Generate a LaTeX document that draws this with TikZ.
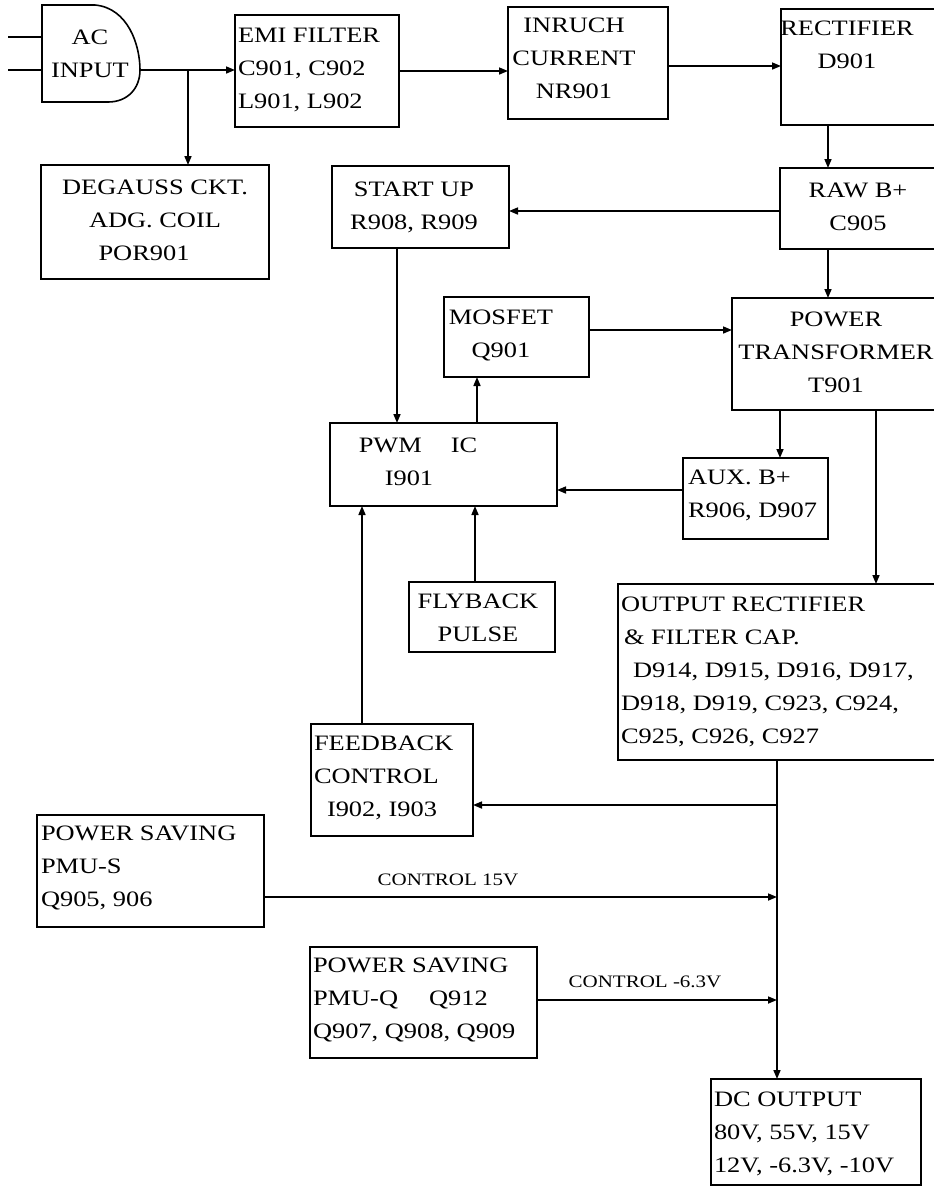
\documentclass[tikz,border=0pt]{standalone}
\usepackage{fontspec}
\setmainfont{Liberation Serif}[FakeStretch=1.2]
\usetikzlibrary{arrows.meta}
\begin{document}
\begin{tikzpicture}[x=1pt,y=-1pt,
  box/.style={draw, line width=1.6pt, inner sep=0pt, outer sep=0pt},
  txt/.style={inner sep=0pt, outer sep=0pt, font=\fontsize{22}{33}\selectfont},
  lbl/.style={inner sep=0pt, font=\fontsize{17.5}{20}\selectfont},
  wire/.style={line width=1.6pt},
  arr/.style={wire, -{Triangle[length=9pt,width=7pt]}},
]
\useasboundingbox (0,0) rectangle (934,1187);
\clip (0,0) rectangle (934,1187);
\fill[white] (0,0) rectangle (934,1187);

% boxes
\node[box, minimum width=164pt, minimum height=112pt] (emi) at (317,71) {};
\node[box, minimum width=160pt, minimum height=112pt] (inr) at (588,63) {};
\node[box, minimum width=179pt, minimum height=116pt] (rect) at (870.5,67) {};
\node[box, minimum width=228pt, minimum height=114pt] (deg) at (155,222) {};
\node[box, minimum width=177pt, minimum height=82pt] (su) at (420.5,207) {};
\node[box, minimum width=180pt, minimum height=81pt] (raw) at (870,208.5) {};
\node[box, minimum width=145pt, minimum height=80pt] (mos) at (516.5,337) {};
\node[box, minimum width=228pt, minimum height=112pt] (pt) at (846,354) {};
\node[box, minimum width=227pt, minimum height=83pt] (pwm) at (443.5,464.5) {};
\node[box, minimum width=145pt, minimum height=81pt] (aux) at (755.5,498.5) {};
\node[box, minimum width=146pt, minimum height=70pt] (fly) at (482,617) {};
\node[box, minimum width=342pt, minimum height=176pt] (out) at (789,672) {};
\node[box, minimum width=162pt, minimum height=112pt] (fb) at (392,780) {};
\node[box, minimum width=227pt, minimum height=112pt] (pms) at (150.5,871) {};
\node[box, minimum width=227pt, minimum height=111pt] (pmq) at (423.5,1002.5) {};
\node[box, minimum width=210pt, minimum height=106pt] (dc) at (816,1132) {};

% AC input shape
\draw[line width=1.6pt] (42,5) -- (95,5) .. controls (128,8) and (140,45) .. (140,70)
  .. controls (140,88) and (128,102) .. (108,102) -- (42,102) -- cycle;

% texts
\node[txt, align=center] (tac) at (90,53.5) {AC\\INPUT};
\node[txt, align=left, anchor=west] (temi) at (238,70) {EMI FILTER\\C901, C902\\L901, L902};
\node[txt, align=center] (tinr) at (574,58) {INRUCH\\CURRENT\\NR901};
\node[txt, align=center] (trect) at (847,45) {RECTIFIER\\D901};
\node[txt, align=center] (tdeg) at (155,220) {DEGAUSS CKT.\\ADG. COIL\\POR901\rule{22pt}{0pt}};
\node[txt, align=center] (tsu) at (414,207) {START UP\\R908, R909};
\node[txt, align=center] (traw) at (858,207) {RAW B+\\C905};
\node[txt, align=center] (tmos) at (501,335) {MOSFET\\Q901};
\node[txt, align=center] (tpt) at (836,352) {POWER\\TRANSFORMER\\T901};
\node[txt, align=center] (tpwm) at (418,462) {PWM\hspace{29pt}IC\\I901\rule{18pt}{0pt}};
\node[txt, align=left, anchor=west] (taux) at (688,495) {AUX. B+\\R906, D907};
\node[txt, align=center] (tfly) at (478,618) {FLYBACK\\PULSE};
\node[txt, align=left, anchor=west] (tout) at (621,672) {OUTPUT RECTIFIER\\\hspace*{3pt}\& FILTER CAP.\\\hspace*{12pt}D914, D915, D916, D917,\\D918, D919, C923, C924,\\C925, C926, C927};
\node[txt, align=left, anchor=west] (tfb) at (314,778) {FEEDBACK\\CONTROL\\\hspace*{13pt}I902, I903};
\node[txt, align=left, anchor=west] (tpms) at (41,868) {POWER SAVING\\PMU-S\\Q905, 906};
\node[txt, align=left, anchor=west] (tpmq) at (313,1000) {POWER SAVING\\PMU-Q\hspace{31pt}Q912\\Q907, Q908, Q909};
\node[txt, align=left, anchor=west] (tdc) at (714,1134) {DC OUTPUT\\80V, 55V, 15V\\12V, -6.3V, -10V};
\node[lbl] (l15) at (448,880) {CONTROL 15V};
\node[lbl] (l63) at (645,982) {CONTROL -6.3V};

% helper coordinates
\coordinate (in1a) at (8,37);  \coordinate (in1b) at (42,37);
\coordinate (in2a) at (8,70);  \coordinate (in2b) at (42,70);
\coordinate (acout) at (140,70);
\coordinate (br) at (188,70);
\coordinate (x828) at (828,0);
\coordinate (x397) at (397,0);
\coordinate (x477) at (477,0);
\coordinate (x780) at (780,0);
\coordinate (x876) at (876,0);
\coordinate (x475) at (475,0);
\coordinate (x362) at (362,0);
\coordinate (x777) at (777,0);
\coordinate (y211) at (0,211);
\coordinate (y330) at (0,330);
\coordinate (y490) at (0,490);
\coordinate (y805) at (0,805);
\coordinate (y897) at (0,897);
\coordinate (y1000) at (0,1000);

% connectors
\draw[wire] (in1a) -- (in1b);
\draw[wire] (in2a) -- (in2b);
\draw[arr] (acout) -- (acout -| emi.west);
\draw[arr] (br) -- (br |- deg.north);
\draw[arr] (emi.east) -- (emi.east -| inr.west);
\draw[arr] ([yshift=-3pt]inr.east) -- ([yshift=-3pt]inr.east -| rect.west);
\draw[arr] (rect.south -| x828) -- (raw.north -| x828);
\draw[arr] (raw.west |- y211) -- (su.east |- y211);
\draw[arr] (raw.south -| x828) -- (pt.north -| x828);
\draw[arr] (su.south -| x397) -- (pwm.north -| x397);
\draw[arr] (pwm.north -| x477) -- (mos.south -| x477);
\draw[arr] (mos.east |- y330) -- (pt.west |- y330);
\draw[arr] (pt.south -| x780) -- (aux.north -| x780);
\draw[arr] (aux.west |- y490) -- (pwm.east |- y490);
\draw[arr] (pt.south -| x876) -- (out.north -| x876);
\draw[arr] (fly.north -| x475) -- (pwm.south -| x475);
\draw[arr] (fb.north -| x362) -- (pwm.south -| x362);
\draw[arr] (out.south -| x777) -- (dc.north -| x777);
\draw[arr] (x777 |- y805) -- (fb.east |- y805);
\draw[arr] (pms.east |- y897) -- (x777 |- y897);
\draw[arr] (pmq.east |- y1000) -- (x777 |- y1000);
\end{tikzpicture}
\end{document}
